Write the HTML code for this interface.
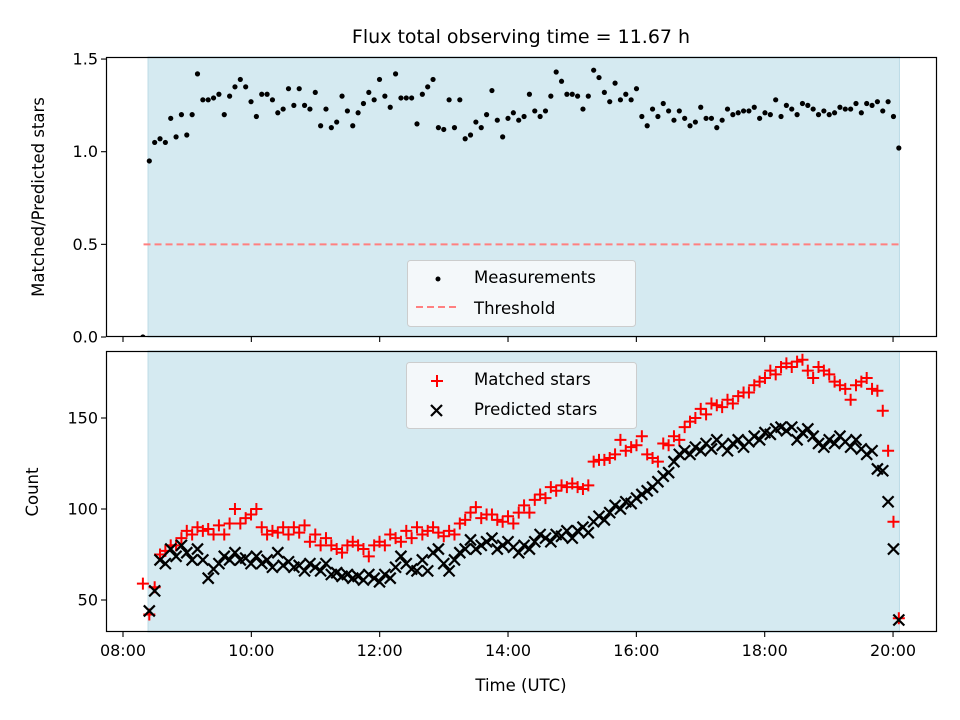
<!DOCTYPE html>
<html><head><meta charset="utf-8"><style>
body{margin:0;background:#fff;}
svg{display:block;font-family:"DejaVu Sans","Liberation Sans",sans-serif;}
</style></head><body>
<svg id="chart" width="960" height="720" viewBox="0 0 960 720">
<rect width="960" height="720" fill="#fff"/>
<text x="521" y="43" font-size="19" text-anchor="middle" fill="#000">Flux total observing time = 11.67 h</text>
<g id="top"></g>
<g id="bot"></g>
<text x="44" y="197" font-size="16.5" text-anchor="middle" transform="rotate(-90 44 197)">Matched/Predicted stars</text>
<text x="38" y="492" font-size="16.5" text-anchor="middle" transform="rotate(-90 38 492)">Count</text>
<text x="521" y="691" font-size="16.5" text-anchor="middle">Time (UTC)</text>
<g>
<rect x="407.5" y="260.5" width="228" height="66" rx="3" fill="#f6f9fb" stroke="#ccc" opacity="0.95"/>
<circle cx="438" cy="279" r="2.5" fill="#000"/>
<line x1="416" y1="307" x2="458" y2="307" stroke="#ff8080" stroke-width="2" stroke-dasharray="7,4"/>
<text x="474" y="283" font-size="16.5">Measurements</text>
<text x="474" y="314" font-size="16.5">Threshold</text>
</g>
<g>
<rect x="406.5" y="362.5" width="230" height="66" rx="3" fill="#f6f9fb" stroke="#ccc" opacity="0.95"/>
<path d="M431 381h12M437 375v12" stroke="#f00" stroke-width="2"/>
<path d="M431 405l11 11M442 405l-11 11" stroke="#000" stroke-width="2.2"/>
<text x="474" y="385" font-size="16.5">Matched stars</text>
<text x="474" y="415" font-size="16.5">Predicted stars</text>
</g>
</svg>
<script>
const ratio=[0,
.95,1.05,1.07,1.05,1.18,1.08,1.20,1.09,1.20,1.42,1.28,1.28,1.29,1.31,1.20,1.30,1.35,1.39,1.35,1.27,
1.19,1.31,1.31,1.28,1.21,1.23,1.34,1.25,1.34,1.25,1.23,1.32,1.14,1.23,1.13,1.16,1.30,1.22,1.14,1.21,
1.26,1.32,1.28,1.39,1.30,1.24,1.42,1.29,1.29,1.29,1.15,1.31,1.35,1.39,1.13,1.12,1.28,1.13,1.28,1.07,
1.09,1.16,1.13,1.20,1.33,1.17,1.08,1.18,1.21,1.17,
1.19,1.31,1.22,1.19,1.22,1.30,1.43,1.38,1.31,1.31,1.30,1.23,1.30,1.44,1.40,1.32,1.27,1.37,1.28,1.31,
1.28,1.34,1.19,1.14,1.23,1.19,1.26,1.22,1.17,1.22,1.18,1.14,1.16,1.24,1.18,1.18,1.13,1.17,1.23,1.20,
1.21,1.22,1.22,1.24,1.18,1.21,1.20,1.28,1.19,1.25,1.23,1.20,1.26,1.25,1.23,1.20,1.22,1.20,1.21,1.24,
1.23,1.23,1.26,1.21,1.26,1.25,1.27,1.22,1.27,1.19,1.02];
const predicted=[null,
44,55,72,70,78,74,80,76,72,78,72,62,67,70,74,72,76,72,73,70,
74,70,72,68,76,69,71,68,69,66,70,68,66,70,64,65,63,64,62,63,
61,64,62,60,64,62,68,74,70,67,66,72,66,76,78,70,66,72,76,78,
83,78,80,82,84,78,80,82,79,76,80,78,82,86,84,82,86,85,88,84,
88,90,87,93,96,94,98,102,100,104,103,106,108,110,112,115,118,120,126,130,
132,130,134,132,136,133,138,135,132,136,138,134,137,140,138,142,141,144,145,143,
145,138,142,144,140,136,134,138,136,140,137,134,138,133,130,132,122,121,104,78,39];
const matched=[59,
42,57,75,77,80,80,84,88,86,90,88,89,86,91,86,92,100,92,95,97,
100,90,86,88,87,90,86,90,87,91,82,86,80,84,80,78,76,80,82,80,
78,74,80,82,80,86,84,82,88,84,90,86,88,90,87,85,88,86,92,94,
98,101,95,97,97,94,93,96,92,98,102,98,105,108,106,112,110,113,112,114,
112,111,113,126,127,127,128,130,138,132,134,135,140,130,128,126,136,135,140,138,
145,148,150,155,152,158,157,156,160,158,162,164,164,168,170,172,176,174,178,180,
178,181,182,176,172,178,176,174,170,168,166,160,168,170,172,166,165,154,132,93,40];
const yTicksTop=[0,0.5,1.0,1.5];
const yTicksBot=[50,100,150];
const xTicks=[8,10,12,14,16,18,20];
const threshold=0.5;
const obsStart=8.39, obsEnd=20.1, firstTime=8.31, tStart=8.41, tEnd=20.09;

const NS='http://www.w3.org/2000/svg';
function mk(tag,attrs,parent){const e=document.createElementNS(NS,tag);for(const k in attrs)e.setAttribute(k,attrs[k]);parent.appendChild(e);return e;}
const X0=106,X1=937;
const xs=h=>123+(h-8)*64.17;
const yTop=v=>337-v*185.3;
const yBot=v=>600-(v-50)*1.82;
const times=ratio.map((_,i)=>i===0?firstTime:tStart+(tEnd-tStart)*(i-1)/(ratio.length-2));
function fmt(h){return String(h).padStart(2,'0')+':00';}

function panel(g,y0,y1,yfun,yticks,labelFmt,showX,clipId){
  const defs=mk('defs',{},g);
  const cp=mk('clipPath',{id:clipId},defs);
  mk('rect',{x:X0,y:y0,width:X1-X0,height:y1-y0},cp);
  const sh=mk('rect',{x:xs(obsStart),y:y0,width:xs(obsEnd)-xs(obsStart),height:y1-y0,fill:'#d5eaf1',stroke:'#bcdbe6','stroke-width':1},g);
  
  
  const plot=mk('g',{'clip-path':'url(#'+clipId+')'},g);
  const frame=mk('rect',{x:X0+0.5,y:y0+0.5,width:X1-X0-1,height:y1-y0-1,fill:'none',stroke:'#000','stroke-width':1.2},g);
  
  
  yticks.forEach(v=>{const y=yfun(v);
    mk('line',{x1:X0-5,x2:X0,y1:y,y2:y,stroke:'#000','stroke-width':1.1},g);
    const t=mk('text',{x:X0-8,y:y+5.5,'font-size':16,'text-anchor':'end'},g);t.textContent=labelFmt(v);
    
    });
  xTicks.forEach(h=>{const x=xs(h);
    mk('line',{x1:x,x2:x,y1:y1,y2:y1+5,stroke:'#000','stroke-width':1.1},g);
    if(showX){const t=mk('text',{x:x,y:y1+24,'font-size':16,'text-anchor':'middle'},g);t.textContent=fmt(h);
      
      }});
  return plot;
}
const pt=panel(document.getElementById('top'),57,337,yTop,yTicksTop,v=>v.toFixed(1),false,'ct');
const th=mk('line',{x1:xs(obsStart-0.07),x2:xs(obsEnd),y1:yTop(threshold),y2:yTop(threshold),stroke:'#ff8080','stroke-width':2,'stroke-dasharray':'7,4'},pt);


ratio.forEach((r,i)=>{const c=mk('circle',{cx:xs(times[i]),cy:yTop(r),r:2.6,fill:'#000'},pt);
  
  });

const pb=panel(document.getElementById('bot'),351,632,yBot,yTicksBot,v=>String(v),true,'cb');
matched.forEach((m,i)=>{const x=xs(times[i]),y=yBot(m);
  const p=mk('path',{d:`M${x-6} ${y}h12M${x} ${y-6}v12`,stroke:'#f00','stroke-width':2},pb);
  
  });
predicted.forEach((v,i)=>{if(v==null)return;const x=xs(times[i]),y=yBot(v);
  const p=mk('path',{d:`M${x-5.5} ${y-5.5}l11 11M${x+5.5} ${y-5.5}l-11 11`,stroke:'#000','stroke-width':2.2},pb);
  
  });
</script>
</body></html>
